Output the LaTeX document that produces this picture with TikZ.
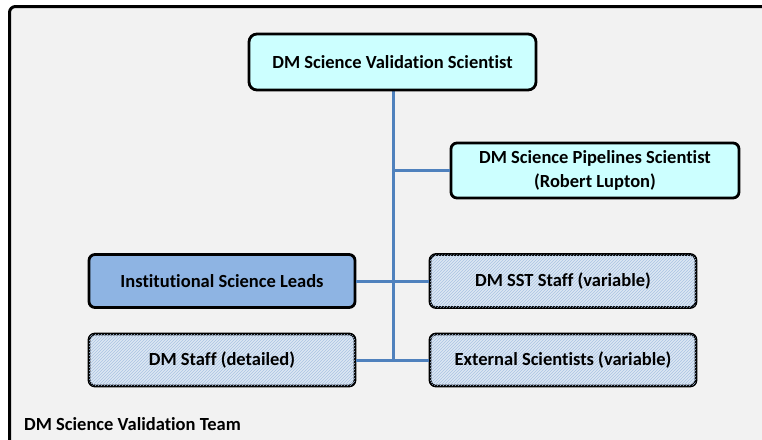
\documentclass[tikz,border=0pt]{standalone}
\usepackage{fontspec}
\setmainfont[Ligatures={NoCommon}]{Carlito}
\usetikzlibrary{patterns}
\definecolor{bgray}{HTML}{F2F2F2}
\definecolor{cyanfill}{HTML}{CCFFFF}
\definecolor{bluefill}{HTML}{8EB4E3}
\definecolor{hatchbg}{HTML}{DDE7F3}
\definecolor{hatchln}{HTML}{A9C3E3}
\definecolor{linkblue}{HTML}{4F81BD}
\tikzset{
  box/.style={draw=black, line width=2.8pt, rounded corners=6pt, align=center,
    font=\fontsize{18.5}{24}\selectfont\bfseries, inner sep=0pt},
  cyanbox/.style={box, fill=cyanfill},
  bluebox/.style={box, fill=bluefill},
  hatchbox/.style={box, fill=hatchbg, postaction={pattern=north east lines, pattern color=hatchln}},
  link/.style={draw=linkblue, line width=3pt},
}
\begin{document}
\begin{tikzpicture}[x=1pt,y=-1pt]
\useasboundingbox (0,0) rectangle (762,439);
\fill[white] (0,0) rectangle (762,439);
\begin{scope}
\clip (0,0) rectangle (762,439);
\draw[line width=3pt, fill=bgray, rounded corners=6pt] (9.5,6.5) rectangle (790,470);
\end{scope}
\coordinate (vtop) at (393,91);
\coordinate (vp) at (393,170.5);
\coordinate (vb) at (393,360);
\draw[link] (vtop) -- (vb);
\draw[link] (vp) -- (450,170.5);
\node[cyanbox, minimum width=287pt, minimum height=56pt, rounded corners=8pt] (top) at (392.5,62) {DM Science Validation Scientist};
\node[cyanbox, minimum width=288pt, minimum height=55pt] (pipe) at (595,170.5) {DM Science Pipelines Scientist\\(Robert Lupton)};
\node[bluebox, minimum width=266pt, minimum height=53pt] (isl) at (222,281) {Institutional Science Leads};
\node[hatchbox, minimum width=266pt, minimum height=53pt] (sst) at (563,281) {DM SST Staff (variable)};
\node[hatchbox, minimum width=266pt, minimum height=52pt] (dms) at (222,360) {DM Staff (detailed)};
\node[hatchbox, minimum width=266pt, minimum height=52pt] (ext) at (563,360) {External Scientists (variable)};
\draw[link] (vp) -- (pipe.west);
\draw[link] (isl.east) -- (sst.west);
\draw[link] (dms.east) -- (ext.west);
\node[anchor=base west, font=\fontsize{18.5}{22}\selectfont\bfseries, inner sep=0pt] (team) at (24,430) {DM Science Validation Team};
\end{tikzpicture}
\end{document}
